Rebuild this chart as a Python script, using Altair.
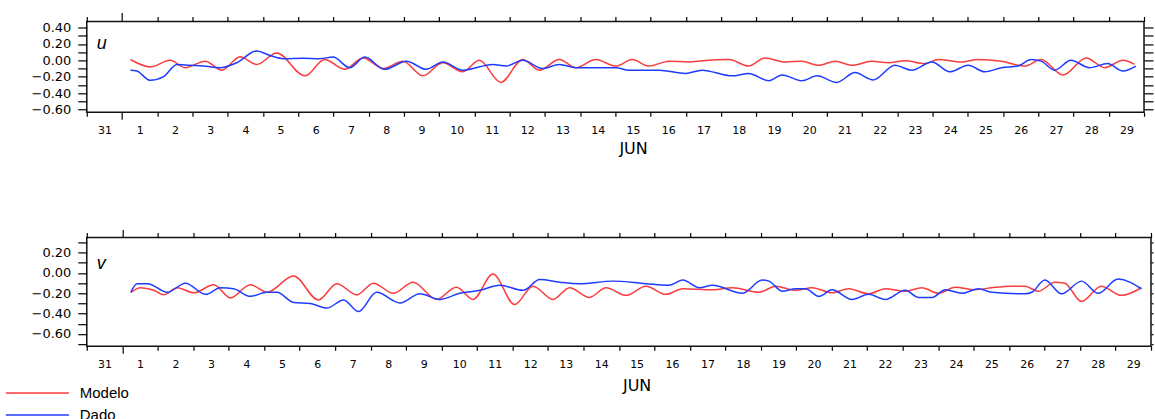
import altair as alt
import pandas as pd

# ---------------- data (days since 31 May 00:00, values) ----------------
U_MOD_DAY = [1.24, 1.80, 2.37, 2.79, 3.36, 3.83, 4.35, 4.82, 5.39, 6.19,
             6.75, 7.32, 7.84, 8.41, 8.97, 9.54, 10.10, 10.67, 11.14, 11.75,
             12.37, 12.84, 13.41, 13.88, 14.44, 15.01, 15.48, 15.95, 16.52, 17.08,
             17.46, 18.22, 18.78, 19.25, 19.82, 20.29, 20.76, 21.24, 21.72, 22.27,
             22.75, 23.22, 23.78, 24.16, 24.82, 25.29, 25.95, 26.61, 27.08, 27.70,
             28.36, 28.88, 29.40, 29.73]
U_MOD_VAL = [0.01, -0.08, 0.00, -0.09, -0.01, -0.12, 0.045, -0.05, 0.09, -0.19,
             0.01, -0.11, 0.03, -0.10, -0.01, -0.19, -0.03, -0.14, 0.00, -0.27,
             0.01, -0.12, 0.01, -0.09, 0.01, -0.07, 0.01, -0.07, -0.01, -0.02,
             -0.005, 0.01, -0.07, 0.03, -0.02, -0.01, -0.06, -0.01, -0.06, -0.01,
             -0.03, -0.005, -0.04, 0.01, -0.02, 0.01, -0.01, -0.07, 0.01, -0.18,
             0.03, -0.09, 0.00, -0.05]

U_OBS_DAY = [1.24, 1.42, 1.80, 2.18, 2.56, 2.93, 3.31, 3.78, 4.25, 4.82,
             5.20, 5.58, 6.14, 6.61, 6.99, 7.46, 7.89, 8.45, 9.07, 9.63,
             10.10, 10.67, 11.52, 11.90, 12.37, 12.93, 13.41, 13.88, 15.01, 15.39,
             16.24, 16.99, 17.46, 18.31, 18.78, 19.35, 19.73, 20.29, 20.72, 21.28,
             21.80, 22.32, 22.93, 23.41, 23.98, 24.49, 25.01, 25.48, 25.95, 26.42,
             26.80, 27.08, 27.46, 27.93, 28.45, 28.97, 29.40, 29.77]
U_OBS_VAL = [-0.12, -0.13, -0.245, -0.20, -0.05, -0.06, -0.07, -0.09, -0.03, 0.115,
             0.06, 0.02, 0.025, 0.02, 0.04, -0.09, 0.04, -0.11, -0.01, -0.11,
             -0.02, -0.12, -0.05, -0.07, 0.00, -0.10, -0.05, -0.09, -0.09, -0.12,
             -0.12, -0.16, -0.12, -0.19, -0.16, -0.25, -0.18, -0.25, -0.19, -0.27,
             -0.15, -0.24, -0.06, -0.12, -0.02, -0.14, -0.06, -0.14, -0.09, -0.07,
             0.01, -0.01, -0.12, 0.00, -0.09, -0.04, -0.13, -0.07]

V_MOD_DAY = [1.24, 1.52, 1.89, 2.17, 2.55, 3.02, 3.58, 4.05, 4.61, 5.08,
             5.83, 6.53, 7.05, 7.61, 8.08, 8.64, 9.20, 9.86, 10.42, 10.89,
             11.45, 12.06, 12.58, 13.14, 13.61, 14.17, 14.64, 15.20, 15.76, 16.33,
             16.80, 17.64, 18.20, 18.95, 19.42, 19.98, 20.45, 21.01, 21.48, 22.04,
             22.51, 23.07, 23.54, 24.01, 24.48, 25.04, 25.51, 26.07, 26.45, 26.82,
             27.29, 27.57, 28.04, 28.60, 29.17, 29.73]
V_MOD_VAL = [-0.19, -0.145, -0.17, -0.215, -0.145, -0.195, -0.115, -0.245, -0.115, -0.19,
             -0.03, -0.265, -0.105, -0.215, -0.10, -0.20, -0.09, -0.26, -0.14, -0.26,
             -0.01, -0.31, -0.13, -0.26, -0.145, -0.24, -0.145, -0.22, -0.13, -0.21,
             -0.155, -0.165, -0.145, -0.19, -0.13, -0.17, -0.145, -0.195, -0.155, -0.205,
             -0.155, -0.18, -0.145, -0.20, -0.14, -0.165, -0.145, -0.13, -0.13, -0.18,
             -0.09, -0.10, -0.28, -0.13, -0.22, -0.145]

V_OBS_DAY = [1.24, 1.42, 1.71, 2.27, 2.78, 3.35, 3.77, 4.14, 4.61, 5.08,
             5.36, 5.83, 6.30, 6.77, 7.24, 7.66, 8.17, 8.83, 9.39, 9.95,
             10.51, 11.08, 11.64, 12.30, 12.77, 13.33, 13.89, 14.83, 15.76, 16.42,
             16.80, 17.27, 17.64, 18.48, 19.04, 19.23, 19.61, 19.98, 20.26, 20.64,
             21.01, 21.57, 22.04, 22.51, 23.07, 23.45, 23.83, 24.20, 24.67, 25.14,
             25.51, 26.45, 26.64, 27.01, 27.48, 28.04, 28.51, 29.07, 29.73]
V_OBS_VAL = [-0.19, -0.105, -0.105, -0.19, -0.10, -0.21, -0.145, -0.155, -0.23, -0.19,
             -0.19, -0.29, -0.30, -0.345, -0.265, -0.38, -0.19, -0.295, -0.205, -0.26,
             -0.20, -0.17, -0.12, -0.17, -0.065, -0.09, -0.105, -0.08, -0.105, -0.12,
             -0.07, -0.145, -0.12, -0.20, -0.07, -0.08, -0.18, -0.155, -0.155, -0.23,
             -0.165, -0.26, -0.21, -0.26, -0.17, -0.24, -0.24, -0.165, -0.20, -0.155,
             -0.19, -0.205, -0.19, -0.07, -0.205, -0.08, -0.20, -0.06, -0.155]

SERIES = ["Modelo", "Dado"]
COLORS = ["#fa3c3c", "#1e3cff"]
PANEL_LABELS = ["u", "v"]
MONTH_LABEL = "JUN"
U_TICKS = [-0.6, -0.5, -0.4, -0.3, -0.2, -0.1, 0.0, 0.1, 0.2, 0.3, 0.4]
V_TICKS = [-0.7, -0.6, -0.5, -0.4, -0.3, -0.2, -0.1, 0.0, 0.1, 0.2, 0.3]
U_DOMAIN = [-0.635, 0.475]
V_DOMAIN = [-0.72, 0.35]
START = "2008-05-31"
END = "2008-06-30"

BASE = pd.Timestamp(START)


def to_time(days):
    return (BASE + pd.to_timedelta(days, unit="D")).strftime("%Y-%m-%dT%H:%M:%S")


def make_df(mod_d, mod_v, obs_d, obs_v):
    a = pd.DataFrame({"time": to_time(mod_d), "value": mod_v, "series": SERIES[0]})
    b = pd.DataFrame({"time": to_time(obs_d), "value": obs_v, "series": SERIES[1]})
    return pd.concat([a, b], ignore_index=True)


def dt(ts):
    return alt.DateTime(year=ts.year, month=ts.month, date=ts.day, hours=ts.hour)


MIDNIGHTS = [dt(t) for t in pd.date_range(START, END, freq="D")]
NOONS = [dt(t) for t in pd.date_range(START, END, freq="D")[:-1] + pd.Timedelta(hours=12)]
X_DOMAIN = [dt(pd.Timestamp(START)), dt(pd.Timestamp(END))]

FIRST_OF_MONTH = "date(datum.value) == 1 && hours(datum.value) == 0"
Y_LABEL_EXPR = "abs(round(datum.value * 10)) % 2 == 0 ? format(datum.value, '.2f') : ''"

legend = alt.Legend(
    title=None, orient="none", legendX=-57, legendY=365, padding=0,
    symbolType="M-10,0H10", symbolSize=40, symbolStrokeWidth=1.5,
    labelFont="Liberation Sans", labelFontSize=15, labelColor="black",
    labelOffset=35, rowPadding=6,
)


def panel(df, label, y_ticks, y_dom, w, h, top_long, right_tick, min_ext, title_dy, jun_y):
    xs = alt.Scale(domain=X_DOMAIN)
    ys = alt.Scale(domain=y_dom, nice=False, zero=False)
    base = alt.Chart(df)
    lines = base.mark_line(strokeWidth=1.5, interpolate="monotone").encode(
        x=alt.X("time:T", scale=xs, axis=alt.Axis(
            orient="bottom", values=MIDNIGHTS, labels=False, title=None,
            tickSize={"condition": {"test": FIRST_OF_MONTH, "value": 7}, "value": 4})),
        y=alt.Y("value:Q", scale=ys, axis=alt.Axis(
            orient="left", values=y_ticks, labelExpr=Y_LABEL_EXPR, tickSize=9,
            labelPadding=7, labelFontSize=13, minExtent=min_ext, title=None)),
        color=alt.Color("series:N", scale=alt.Scale(domain=SERIES, range=COLORS),
                        legend=legend),
    )
    frame = base.mark_line(opacity=0).encode(
        x=alt.X("time:T", scale=xs, axis=alt.Axis(
            orient="top", values=MIDNIGHTS, labels=False, title=None,
            tickSize={"condition": {"test": FIRST_OF_MONTH, "value": top_long}, "value": 5})),
        y=alt.Y("value:Q", scale=ys, axis=alt.Axis(
            orient="right", values=y_ticks, labels=False, tickSize=right_tick, title=None)),
        detail="series:N",
    )
    days = base.mark_line(opacity=0).encode(
        x=alt.X("time:T", scale=xs, axis=alt.Axis(
            orient="bottom", values=NOONS, labelExpr="timeFormat(datum.value, '%-d')",
            tickSize=0, tickOpacity=0, labelPadding=12, labelFontSize=11,
            labelOverlap=False, labelFlush=False, labelBound=False, labelAngle=0,
            title=MONTH_LABEL, titleFont="DejaVu Sans", titleFontSize=16,
            titleFontWeight="normal", titleColor="black",
            titleX=w * 15.5 / 30, titleY=jun_y, titleBaseline="alphabetic",
            titleAnchor="middle", titleAlign="center")),
        y=alt.Y("value:Q", scale=ys, axis=None),
        detail="series:N",
    )
    return alt.layer(lines, frame, days).resolve_axis(
        x="independent", y="independent"
    ).properties(
        width=w, height=h,
        title=alt.TitleParams(
            text=label, anchor="start", frame="group", orient="top", offset=0,
            font="Liberation Sans", fontSize=18, fontStyle="italic",
            fontWeight="normal", color="black", dx=10, dy=title_dy,
            baseline="alphabetic"),
    )


top = panel(make_df(U_MOD_DAY, U_MOD_VAL, U_OBS_DAY, U_OBS_VAL), PANEL_LABELS[0],
            U_TICKS, U_DOMAIN, 1060, 91, 9, 9, 62, 55, 41.5)
bottom = panel(make_df(V_MOD_DAY, V_MOD_VAL, V_OBS_DAY, V_OBS_VAL), PANEL_LABELS[1],
               V_TICKS, V_DOMAIN, 1067, 109, 8, 2, 65, 58, 44)

chart = alt.concat(top, bottom, columns=1, spacing=69.5, align="none").properties(
    padding={"left": 21, "top": 10, "right": 0, "bottom": 0},
    background="white",
).configure_view(
    stroke="#111111", strokeWidth=1.5
).configure_axis(
    domain=False, grid=False, tickColor="black", tickWidth=1.2,
    labelColor="black", labelFont="DejaVu Sans",
)

chart.save("out.html", embed_options={"renderer": "svg", "actions": False})
